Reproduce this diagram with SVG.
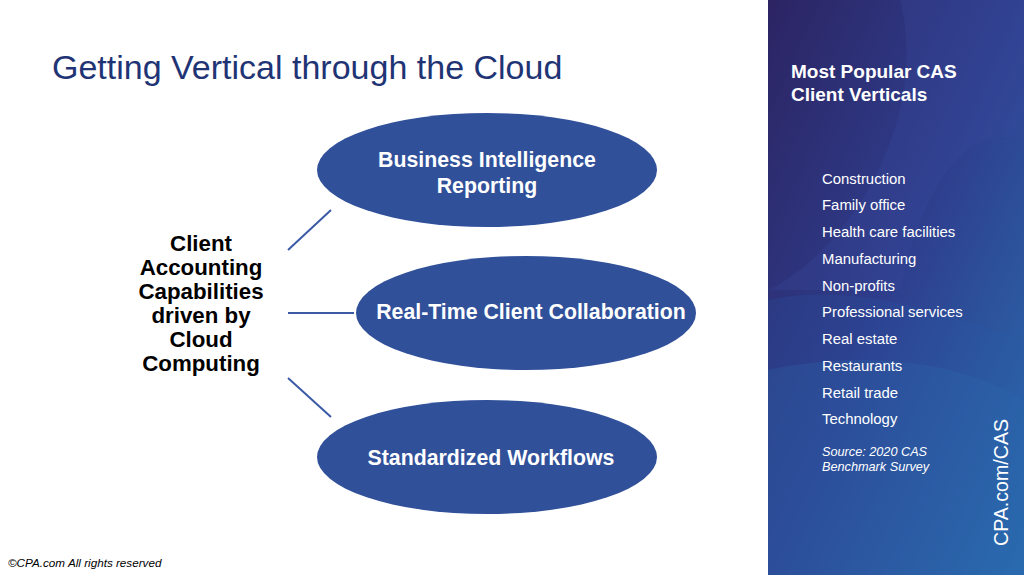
<svg xmlns="http://www.w3.org/2000/svg" width="1024" height="575" viewBox="0 0 1024 575">
<defs>
<linearGradient id="panel" x1="0" y1="0" x2="1" y2="1">
<stop offset="0" stop-color="#2c2463"/>
<stop offset="0.5" stop-color="#2e3f8e"/>
<stop offset="1" stop-color="#2a6fb0"/>
</linearGradient>
<style>
.ell{fill:#30509a;}
.lbl{font-family:"Liberation Sans",Arial,sans-serif;font-weight:bold;font-size:21.3px;fill:#ffffff;text-anchor:middle;}
.conn line{stroke:#3a5aa6;stroke-width:2;}
.li{font-family:"Liberation Sans",Arial,sans-serif;font-size:14.9px;fill:#ffffff;}
</style>
</defs>
<rect width="1024" height="575" fill="#ffffff"/>
<g id="panel-bg">
<rect x="768" y="0" width="256" height="575" fill="url(#panel)"/>
<path d="M768,290 C850,250 930,120 900,0 L1024,0 L1024,140 C960,120 920,200 900,290 Z" fill="#3a4aa0" opacity="0.25"/>
<path d="M768,300 C860,280 960,320 1024,340 L1024,575 L768,575 Z" fill="#2a5aa8" opacity="0.2"/>
<path d="M768,370 C860,350 960,360 1024,400 L1024,575 L768,575 Z" fill="#2a6ab0" opacity="0.25"/>
</g>
<text x="52" y="79" font-family="'Liberation Sans',Arial,sans-serif" font-size="34" fill="#1f3475">Getting Vertical through the Cloud</text>
<g id="center" font-family="'Liberation Sans',Arial,sans-serif" font-weight="bold" font-size="22.3" fill="#000000" text-anchor="middle">
<text x="201" y="251">Client</text>
<text x="201" y="275">Accounting</text>
<text x="201" y="299">Capabilities</text>
<text x="201" y="323">driven by</text>
<text x="201" y="347">Cloud</text>
<text x="201" y="371">Computing</text>
</g>
<g id="connectors" class="conn">
<line x1="288" y1="250" x2="331" y2="210"/>
<line x1="288" y1="313" x2="354" y2="313"/>
<line x1="288" y1="378" x2="331" y2="417"/>
</g>
<g id="node-bi">
<ellipse class="ell" cx="487" cy="170" rx="170" ry="57"/>
<text class="lbl" x="487" y="167">Business Intelligence</text>
<text class="lbl" x="487" y="193">Reporting</text>
</g>
<g id="node-rt">
<ellipse class="ell" cx="526" cy="313" rx="170" ry="57"/>
<text class="lbl" x="531" y="319">Real-Time Client Collaboration</text>
</g>
<g id="node-sw">
<ellipse class="ell" cx="487" cy="457" rx="170" ry="57"/>
<text class="lbl" x="491" y="465">Standardized Workflows</text>
</g>
<g id="sidebar">
<text x="791" y="78" font-family="'Liberation Sans',Arial,sans-serif" font-weight="bold" font-size="19" fill="#ffffff">Most Popular CAS</text>
<text x="791" y="101" font-family="'Liberation Sans',Arial,sans-serif" font-weight="bold" font-size="19" fill="#ffffff">Client Verticals</text>
<text class="li" x="822" y="184">Construction</text>
<text class="li" x="822" y="210">Family office</text>
<text class="li" x="822" y="237">Health care facilities</text>
<text class="li" x="822" y="264">Manufacturing</text>
<text class="li" x="822" y="291">Non-profits</text>
<text class="li" x="822" y="317">Professional services</text>
<text class="li" x="822" y="344">Real estate</text>
<text class="li" x="822" y="371">Restaurants</text>
<text class="li" x="822" y="398">Retail trade</text>
<text class="li" x="822" y="424">Technology</text>
<text x="822" y="456" font-family="'Liberation Sans',Arial,sans-serif" font-style="italic" font-size="12.7" fill="#ffffff">Source: 2020 CAS</text>
<text x="822" y="471" font-family="'Liberation Sans',Arial,sans-serif" font-style="italic" font-size="12.7" fill="#ffffff">Benchmark Survey</text>
<text transform="translate(1008,546) rotate(-90)" font-family="'Liberation Sans',Arial,sans-serif" font-size="19.6" fill="#ffffff">CPA.com/CAS</text>
</g>
<text x="8" y="567" font-family="'Liberation Sans',Arial,sans-serif" font-style="italic" font-size="11.7" fill="#000000">©CPA.com All rights reserved</text>
</svg>
